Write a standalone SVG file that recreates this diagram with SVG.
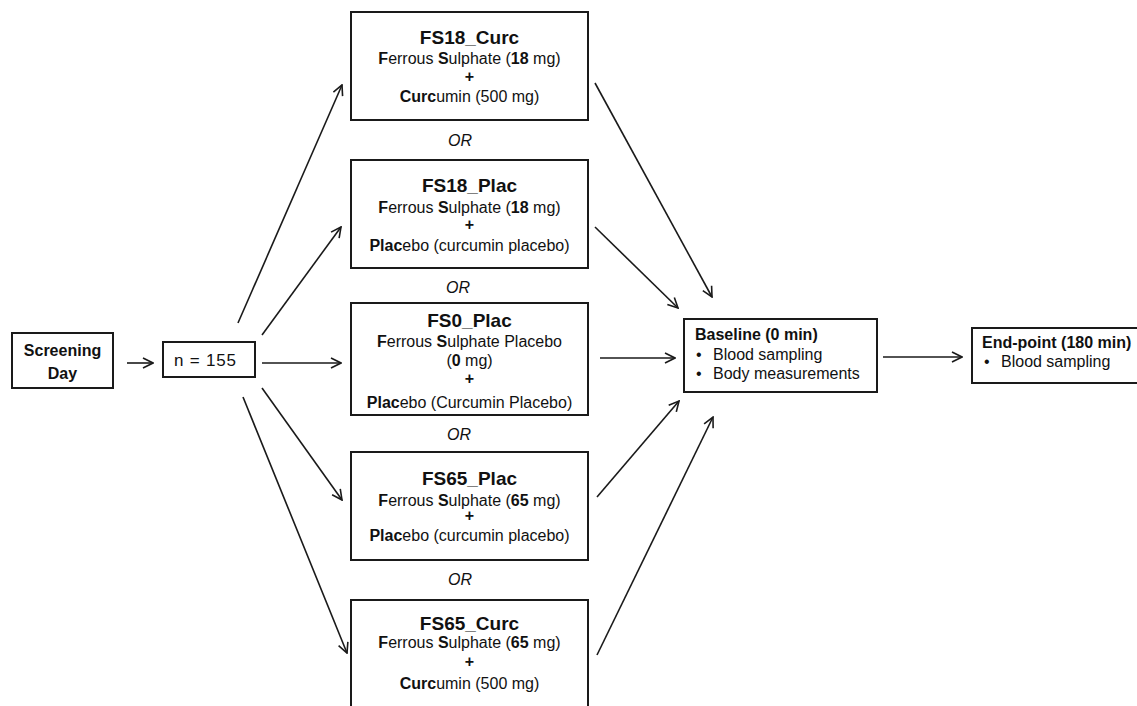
<svg xmlns="http://www.w3.org/2000/svg" width="1137" height="706" viewBox="0 0 1137 706">
<style>
text{font-family:"Liberation Sans",Arial,sans-serif;fill:#111;}
.box{fill:#fff;stroke:#1a1a1a;stroke-width:2;}
.t{font-size:19px;font-weight:bold;text-anchor:middle;}
.b{font-size:16px;text-anchor:middle;}
.l{font-size:16px;}
.bold{font-weight:bold;}
.or{font-size:16px;font-style:italic;text-anchor:middle;}
.arr{stroke:#1a1a1a;stroke-width:1.6;fill:none;marker-end:url(#ah);}
</style>
<defs>
<marker id="ah" viewBox="0 0 12 12" refX="11" refY="6" markerWidth="12" markerHeight="12" markerUnits="userSpaceOnUse" orient="auto">
<path d="M1,1 L11,6 L1,11" fill="none" stroke="#1a1a1a" stroke-width="1.6"/>
</marker>
</defs>
<rect width="1137" height="706" fill="#fff"/>
<g id="connectors">
<line class="arr" x1="127" y1="363" x2="153" y2="363"/>
<line class="arr" x1="238" y1="323" x2="342" y2="85"/>
<line class="arr" x1="262" y1="335" x2="341" y2="227"/>
<line class="arr" x1="262" y1="363" x2="341" y2="363"/>
<line class="arr" x1="262" y1="388" x2="342" y2="500"/>
<line class="arr" x1="243" y1="397" x2="347" y2="653"/>
<line class="arr" x1="595" y1="83" x2="712" y2="297"/>
<line class="arr" x1="595" y1="227" x2="678" y2="308"/>
<line class="arr" x1="600" y1="358" x2="675" y2="358"/>
<line class="arr" x1="597" y1="497" x2="679" y2="401"/>
<line class="arr" x1="597" y1="655" x2="713" y2="417"/>
<line class="arr" x1="883" y1="357" x2="962" y2="357"/>
</g>
<g id="screening">
<rect class="box" x="12" y="333" width="101" height="55"/>
<text class="b bold" x="62.5" y="356">Screening</text>
<text class="b bold" x="62.5" y="379">Day</text>
</g>
<g id="n155">
<rect class="box" x="163" y="342" width="92" height="35"/>
<text class="b" x="205" y="366" style="font-size:17px" textLength="62" lengthAdjust="spacing">n = 155</text>
</g>
<g id="fs18curc">
<rect class="box" x="351" y="12" width="237" height="108"/>
<text class="t" x="469.5" y="44">FS18_Curc</text>
<text class="b" x="469.5" y="64"><tspan class="bold">F</tspan>errous <tspan class="bold">S</tspan>ulphate (<tspan class="bold">18</tspan> mg)</text>
<text class="b bold" x="469.5" y="82">+</text>
<text class="b" x="469.5" y="102"><tspan class="bold">Curc</tspan>umin (500 mg)</text>
</g>
<text class="or" x="460" y="146">OR</text>
<g id="fs18plac">
<rect class="box" x="351" y="160" width="237" height="108"/>
<text class="t" x="469.5" y="192">FS18_Plac</text>
<text class="b" x="469.5" y="213"><tspan class="bold">F</tspan>errous <tspan class="bold">S</tspan>ulphate (<tspan class="bold">18</tspan> mg)</text>
<text class="b bold" x="469.5" y="230">+</text>
<text class="b" x="469.5" y="251"><tspan class="bold">Plac</tspan>ebo (curcumin placebo)</text>
</g>
<text class="or" x="458" y="293">OR</text>
<g id="fs0plac">
<rect class="box" x="351" y="303" width="237" height="112"/>
<text class="t" x="469.5" y="327">FS0_Plac</text>
<text class="b" x="469.5" y="347"><tspan class="bold">F</tspan>errous <tspan class="bold">S</tspan>ulphate Placebo</text>
<text class="b" x="469.5" y="366">(<tspan class="bold">0</tspan> mg)</text>
<text class="b bold" x="469.5" y="384">+</text>
<text class="b" x="469.5" y="408"><tspan class="bold">Plac</tspan>ebo (Curcumin Placebo)</text>
</g>
<text class="or" x="459" y="440">OR</text>
<g id="fs65plac">
<rect class="box" x="351" y="452" width="237" height="108"/>
<text class="t" x="469.5" y="485">FS65_Plac</text>
<text class="b" x="469.5" y="506"><tspan class="bold">F</tspan>errous <tspan class="bold">S</tspan>ulphate (<tspan class="bold">65</tspan> mg)</text>
<text class="b bold" x="469.5" y="521">+</text>
<text class="b" x="469.5" y="541"><tspan class="bold">Plac</tspan>ebo (curcumin placebo)</text>
</g>
<text class="or" x="460" y="585">OR</text>
<g id="fs65curc">
<rect class="box" x="351" y="600" width="237" height="120"/>
<text class="t" x="469.5" y="630">FS65_Curc</text>
<text class="b" x="469.5" y="648"><tspan class="bold">F</tspan>errous <tspan class="bold">S</tspan>ulphate (<tspan class="bold">65</tspan> mg)</text>
<text class="b bold" x="469.5" y="667">+</text>
<text class="b" x="469.5" y="689"><tspan class="bold">Curc</tspan>umin (500 mg)</text>
</g>
<g id="baseline">
<rect class="box" x="684" y="319" width="193" height="73"/>
<text class="l bold" x="695" y="340">Baseline (0 min)</text>
<text class="l" x="696" y="360">•</text>
<text class="l" x="713" y="360">Blood sampling</text>
<text class="l" x="696" y="379">•</text>
<text class="l" x="713" y="379">Body measurements</text>
</g>
<g id="endpoint">
<rect class="box" x="972" y="328" width="180" height="55"/>
<text class="l bold" x="982" y="348">End-point (180 min)</text>
<text class="l" x="984" y="367">•</text>
<text class="l" x="1001" y="367">Blood sampling</text>
</g>
</svg>
